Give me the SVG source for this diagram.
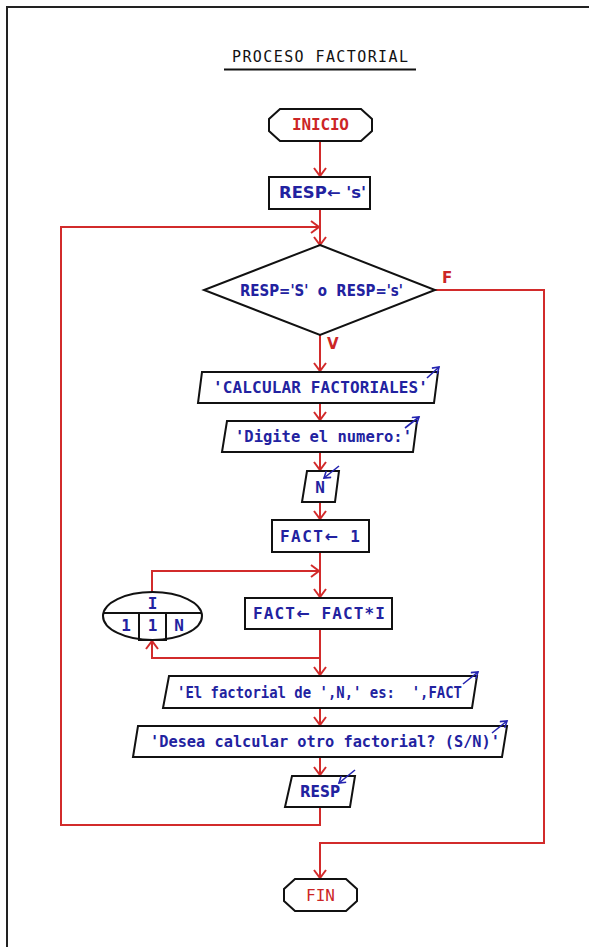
<svg xmlns="http://www.w3.org/2000/svg" width="589" height="947" viewBox="0 0 589 947">
<defs>
<style>
.bg{fill:#fff}
.frame{fill:none;stroke:#222;stroke-width:2}
.shape{fill:#fff;stroke:#111;stroke-width:2}
.conn{fill:none;stroke:#d22b2b;stroke-width:2}
.io{fill:none;stroke:#2424b0;stroke-width:1.6}
.mono{font-family:"DejaVu Sans Mono","Liberation Mono",monospace;font-weight:bold;font-size:16px;fill:#2222a0;white-space:pre}
.sans{font-family:"DejaVu Sans","Liberation Sans",sans-serif;font-weight:bold;font-size:15px;fill:#2222a0;white-space:pre}
.arw{font-family:"DejaVu Sans","Liberation Sans",sans-serif}
.term{font-family:"DejaVu Sans Mono","Liberation Mono",monospace;font-size:16px;fill:#cc2626}
.lbl{font-family:"DejaVu Sans","Liberation Sans",sans-serif;font-weight:bold;font-size:15px;fill:#cc2626}
.title{font-family:"DejaVu Sans Mono","Liberation Mono",monospace;font-size:15px;fill:#111}
</style>
<marker id="arr" markerUnits="userSpaceOnUse" markerWidth="14" markerHeight="14" refX="10" refY="7" orient="auto">
<path d="M2,1 L10,7 L2,13" fill="none" stroke="#d22b2b" stroke-width="2"/>
</marker>
<marker id="barr" markerUnits="userSpaceOnUse" markerWidth="10" markerHeight="10" refX="7" refY="5" orient="auto">
<path d="M1,1 L7,5 L1,9" fill="none" stroke="#2424b0" stroke-width="1.6"/>
</marker>
</defs>
<rect class="bg" x="0" y="0" width="589" height="947"/>
<path class="frame" d="M7,947 V7 H589"/>
<g id="title">
<text class="title" x="232" y="62" textLength="176" lengthAdjust="spacing">PROCESO FACTORIAL</text>
<line x1="224" y1="69.5" x2="416" y2="69.5" stroke="#111" stroke-width="2"/>
</g>
<g id="connectors">
<path class="conn" d="M320,141 V176" marker-end="url(#arr)"/>
<path class="conn" d="M320,209 V245" marker-end="url(#arr)"/>
<path class="conn" d="M320,807 V825 H61 V227 H319" marker-end="url(#arr)"/>
<path class="conn" d="M320,335 V371" marker-end="url(#arr)"/>
<path class="conn" d="M320,403 V420" marker-end="url(#arr)"/>
<path class="conn" d="M320,452 V470" marker-end="url(#arr)"/>
<path class="conn" d="M320,502 V519" marker-end="url(#arr)"/>
<path class="conn" d="M320,552 V597" marker-end="url(#arr)"/>
<path class="conn" d="M152,592 V571 H319" marker-end="url(#arr)"/>
<path class="conn" d="M320,629 V675" marker-end="url(#arr)"/>
<path class="conn" d="M320,658 H152 V641" marker-end="url(#arr)"/>
<path class="conn" d="M320,708 V725" marker-end="url(#arr)"/>
<path class="conn" d="M320,757 V775" marker-end="url(#arr)"/>
<path class="conn" d="M435,290 H544 V843 H320 V878" marker-end="url(#arr)"/>
<text class="lbl" x="442" y="283">F</text>
<text class="lbl" x="327" y="349">V</text>
</g>
<g id="inicio">
<polygon class="shape" points="280,109 361,109 372,119 372,131 361,141 280,141 269,131 269,119"/>
<text class="term" x="320.5" y="130" text-anchor="middle" font-weight="bold" textLength="57" lengthAdjust="spacing">INICIO</text>
</g>
<g id="init-resp">
<rect class="shape" x="269" y="177" width="101" height="32"/>
<text class="sans" x="279" y="198" textLength="87" lengthAdjust="spacingAndGlyphs">RESP← 's'</text>
</g>
<g id="decision">
<polygon class="shape" points="320,245 435,290 320,335 204,290"/>
<text class="sans" x="240" y="296" textLength="163" lengthAdjust="spacingAndGlyphs">RESP='S'  o  RESP='s'</text>
</g>
<g id="out-title">
<polygon class="shape" points="202,372 438,372 434,403 198,403"/>
<text class="mono" x="213" y="393" textLength="215" lengthAdjust="spacing">'CALCULAR FACTORIALES'</text>
<line class="io" x1="427" y1="378" x2="439" y2="367" marker-end="url(#barr)"/>
</g>
<g id="out-digite">
<polygon class="shape" points="227,421 417,421 413,452 222,452"/>
<text class="mono" x="235" y="442" textLength="177" lengthAdjust="spacingAndGlyphs">'Digite el numero:'</text>
<line class="io" x1="405" y1="428" x2="419" y2="417" marker-end="url(#barr)"/>
</g>
<g id="in-n">
<polygon class="shape" points="307,471 339,471 335,502 302,502"/>
<text class="mono" x="320" y="493" text-anchor="middle">N</text>
<line class="io" x1="339" y1="466" x2="324" y2="478" marker-end="url(#barr)"/>
</g>
<g id="fact-init">
<rect class="shape" x="272" y="520" width="97" height="32"/>
<text class="mono" x="280" y="542" textLength="80" lengthAdjust="spacing">FACT<tspan class="arw">←</tspan> 1</text>
</g>
<g id="loop-for">
<ellipse class="shape" cx="152.5" cy="616" rx="49.5" ry="24"/>
<line x1="103.5" y1="613" x2="201.5" y2="613" stroke="#111" stroke-width="2"/>
<rect x="139" y="613" width="27" height="27" fill="none" stroke="#111" stroke-width="2"/>
<text class="mono" x="152.5" y="609" text-anchor="middle">I</text>
<text class="mono" x="126" y="631" text-anchor="middle">1</text>
<text class="mono" x="152.5" y="631" text-anchor="middle">1</text>
<text class="mono" x="179" y="631" text-anchor="middle">N</text>
</g>
<g id="fact-mult">
<rect class="shape" x="245" y="598" width="147" height="31"/>
<text class="mono" x="253" y="619" textLength="132" lengthAdjust="spacing">FACT<tspan class="arw">←</tspan> FACT*I</text>
</g>
<g id="out-result">
<polygon class="shape" points="169,676 477,676 472,708 163,708"/>
<text class="mono" x="177" y="698" textLength="285" lengthAdjust="spacingAndGlyphs">'El factorial de ',N,' es:  ',FACT</text>
<line class="io" x1="463" y1="684" x2="478" y2="672" marker-end="url(#barr)"/>
</g>
<g id="out-ask">
<polygon class="shape" points="138,726 507,726 502,757 133,757"/>
<text class="mono" x="150" y="747" textLength="350" lengthAdjust="spacingAndGlyphs">'Desea calcular otro factorial? (S/N)'</text>
<line class="io" x1="492" y1="733" x2="507" y2="721" marker-end="url(#barr)"/>
</g>
<g id="in-resp">
<polygon class="shape" points="292,776 355,776 350,807 285,807"/>
<text class="sans" x="300" y="797" textLength="40" lengthAdjust="spacingAndGlyphs">RESP</text>
<line class="io" x1="355" y1="770" x2="339" y2="783" marker-end="url(#barr)"/>
</g>
<g id="fin">
<polygon class="shape" points="295,879 346,879 357,889 357,901 346,911 295,911 284,901 284,889"/>
<text class="term" x="320.5" y="901" text-anchor="middle" textLength="29" lengthAdjust="spacing">FIN</text>
</g>
</svg>
